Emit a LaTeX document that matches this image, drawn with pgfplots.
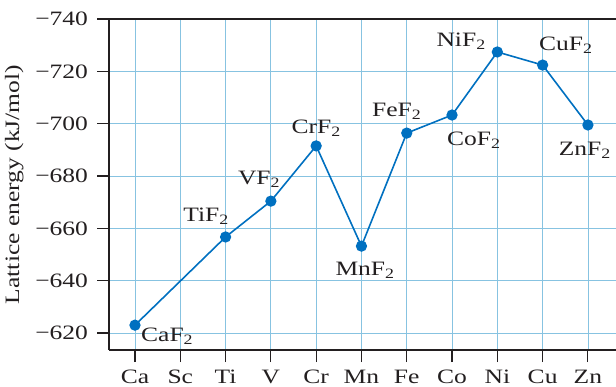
\documentclass[border=0pt]{standalone}
\usepackage{fontspec}
\setmainfont{Liberation Serif}[FakeStretch=1.25]
\usepackage{pgfplots}
\pgfplotsset{compat=1.18}
\definecolor{lineblue}{RGB}{0,112,192}
\definecolor{gridblue}{RGB}{135,195,225}
\definecolor{textgray}{RGB}{35,31,32}
\begin{document}
\fontsize{20.5}{23}\selectfont
\begin{tikzpicture}
\begin{axis}[
  at={(0,0)}, anchor=south west, scale only axis,
  width=507bp, height=331bp,
  xmin=-0.574, xmax=10.62,
  ymin=-740, ymax=-613.5, y dir=reverse,
  separate axis lines,
  axis x line=box, axis y line=left,
  every outer x axis line/.append style={-},
  every outer y axis line/.append style={-},
  axis line style={line width=1.8bp, textgray},
  xtick={0,1,2,3,4,5,6,7,8,9,10},
  xticklabels={Ca,Sc,Ti,V,Cr,Mn,Fe,Co,Ni,Cu,Zn},
  ytick={-740,-720,-700,-680,-660,-640,-620},
  yticklabels={−740,−720,−700,−680,−660,−640,−620},
  xtick pos=left, ytick pos=left,
  tick align=outside,
  major tick length=12bp,
  every tick/.style={textgray, line width=1.1bp},
  grid=major,
  major grid style={gridblue, line width=0.8bp},
  ylabel={Lattice energy (kJ/mol)},
  ylabel style={yshift=-2bp},
  xticklabel style={yshift=-1bp},
  yticklabel style={xshift=-2bp},
  clip=false,
  font=\fontsize{20.5}{23}\selectfont\color{textgray},
  /pgf/number format/assume math mode=true,
]
\addplot[lineblue, line width=1.6bp, mark=*, mark size=4.8bp, mark options={fill=lineblue, draw=lineblue}]
  coordinates {(0,-623) (2,-656.7) (3,-670.4) (4,-691.5) (5,-653.2) (6,-696.4) (7,-703.3) (8,-727.4) (9,-722.4) (10,-699.5)};
\node at (axis cs:0.71,-618.9) {CaF\textsubscript{2}};
\node at (axis cs:1.57,-664.7) {TiF\textsubscript{2}};
\node at (axis cs:2.74,-678.8) {VF\textsubscript{2}};
\node at (axis cs:4.0,-698.3) {CrF\textsubscript{2}};
\node at (axis cs:5.08,-644.1) {MnF\textsubscript{2}};
\node at (axis cs:5.78,-704.8) {FeF\textsubscript{2}};
\node at (axis cs:7.48,-693.7) {CoF\textsubscript{2}};
\node at (axis cs:7.2,-731.6) {NiF\textsubscript{2}};
\node at (axis cs:9.51,-730.0) {CuF\textsubscript{2}};
\node at (axis cs:9.93,-689.9) {ZnF\textsubscript{2}};
\end{axis}
\pgfresetboundingbox
\path (-109bp,-37bp) rectangle (507bp,350bp);
\end{tikzpicture}
\end{document}
